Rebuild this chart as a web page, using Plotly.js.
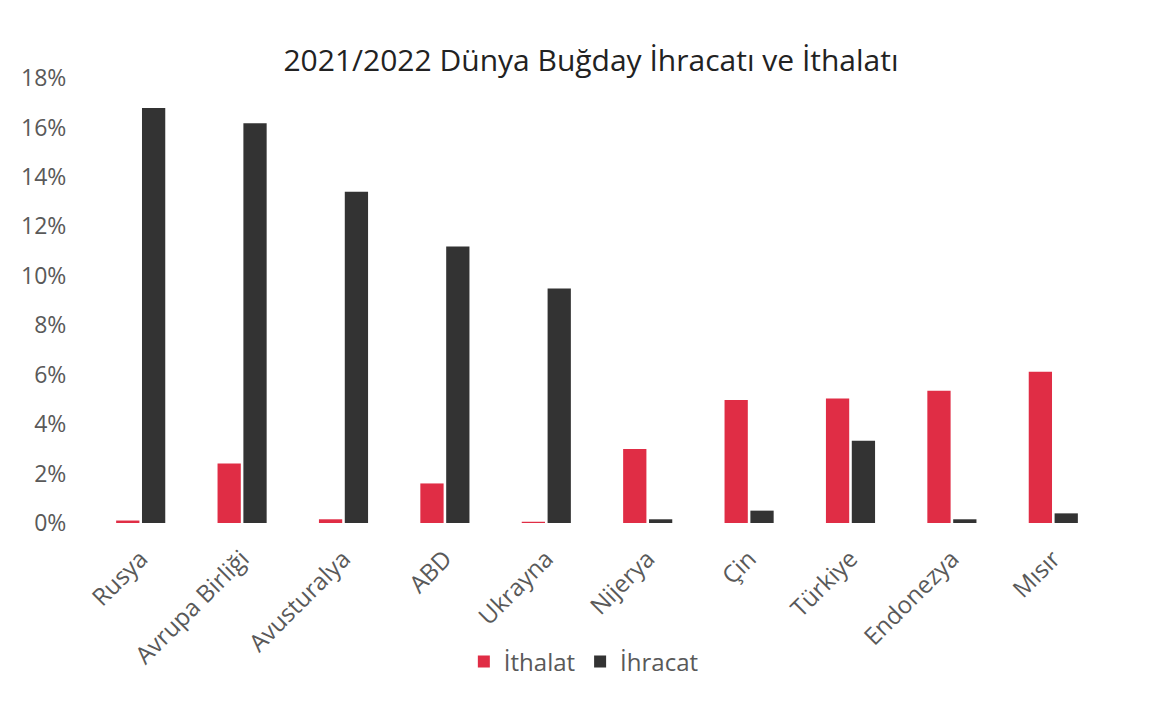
<!DOCTYPE html>
<html>
<head>
<meta charset="utf-8">
<script src="https://cdn.plot.ly/plotly-3.0.1.min.js"></script>
<style>html,body{margin:0;padding:0;background:#fff;}#chart{width:1156px;height:709px;}</style>
</head>
<body>
<div id="chart"></div>
<script>
const categories = ["Rusya", "Avrupa Birliği", "Avusturalya", "ABD", "Ukrayna", "Nijerya", "Çin", "Türkiye", "Endonezya", "Mısır"];
const ithalat = [0.10, 2.41, 0.15, 1.60, 0.05, 2.99, 4.98, 5.04, 5.35, 6.12];
const ihracat = [16.79, 16.17, 13.40, 11.18, 9.49, 0.15, 0.50, 3.33, 0.15, 0.39];
const yTickVals = [0, 2, 4, 6, 8, 10, 12, 14, 16, 18];
const yTickText = ["0%", "2%", "4%", "6%", "8%", "10%", "12%", "14%", "16%", "18%"];

const fontFamily = "'Open Sans', 'DejaVu Sans', sans-serif";
const traces = [
  {type: "bar", name: "İthalat", x: categories, y: ithalat, marker: {color: "#E02D45"}, hoverinfo: "x+y"},
  {type: "bar", name: "İhracat", x: categories, y: ihracat, marker: {color: "#333333"}, hoverinfo: "x+y"}
];
const layout = {
  width: 1156, height: 709,
  paper_bgcolor: "#ffffff", plot_bgcolor: "#ffffff",
  margin: {l: 90, r: 52, t: 78, b: 186},
  barmode: "group", bargap: 0.49, bargroupgap: 0.1,
  title: {text: "2021/2022 Dünya Buğday İhracatı ve İthalatı", x: 591/1156, xanchor: "center", y: 1 - 60/709, yanchor: "middle", font: {family: fontFamily, size: 30, color: "#222222"}},
  font: {family: fontFamily, color: "#595959"},
  xaxis: {tickangle: -45, tickfont: {size: 24, color: "#595959"}, showline: false, showgrid: false, zeroline: false, ticks: "", ticklabelstandoff: 16, automargin: false},
  yaxis: {range: [0, 18], tickvals: yTickVals, ticktext: yTickText, tickfont: {size: 23, color: "#595959"}, showgrid: false, zeroline: false, showline: false, ticks: "outside", ticklen: 18, tickcolor: "rgba(0,0,0,0)", automargin: false},
  showlegend: true,
  legend: {orientation: "h", x: 563/1156, xanchor: "center", y: 1 - 662/709, yref: "container", yanchor: "middle", font: {size: 24, color: "#595959"}, itemwidth: 30, traceorder: "normal"}
};
Plotly.newPlot("chart", traces, layout, {displayModeBar: false, staticPlot: true});
</script>
</body>
</html>
